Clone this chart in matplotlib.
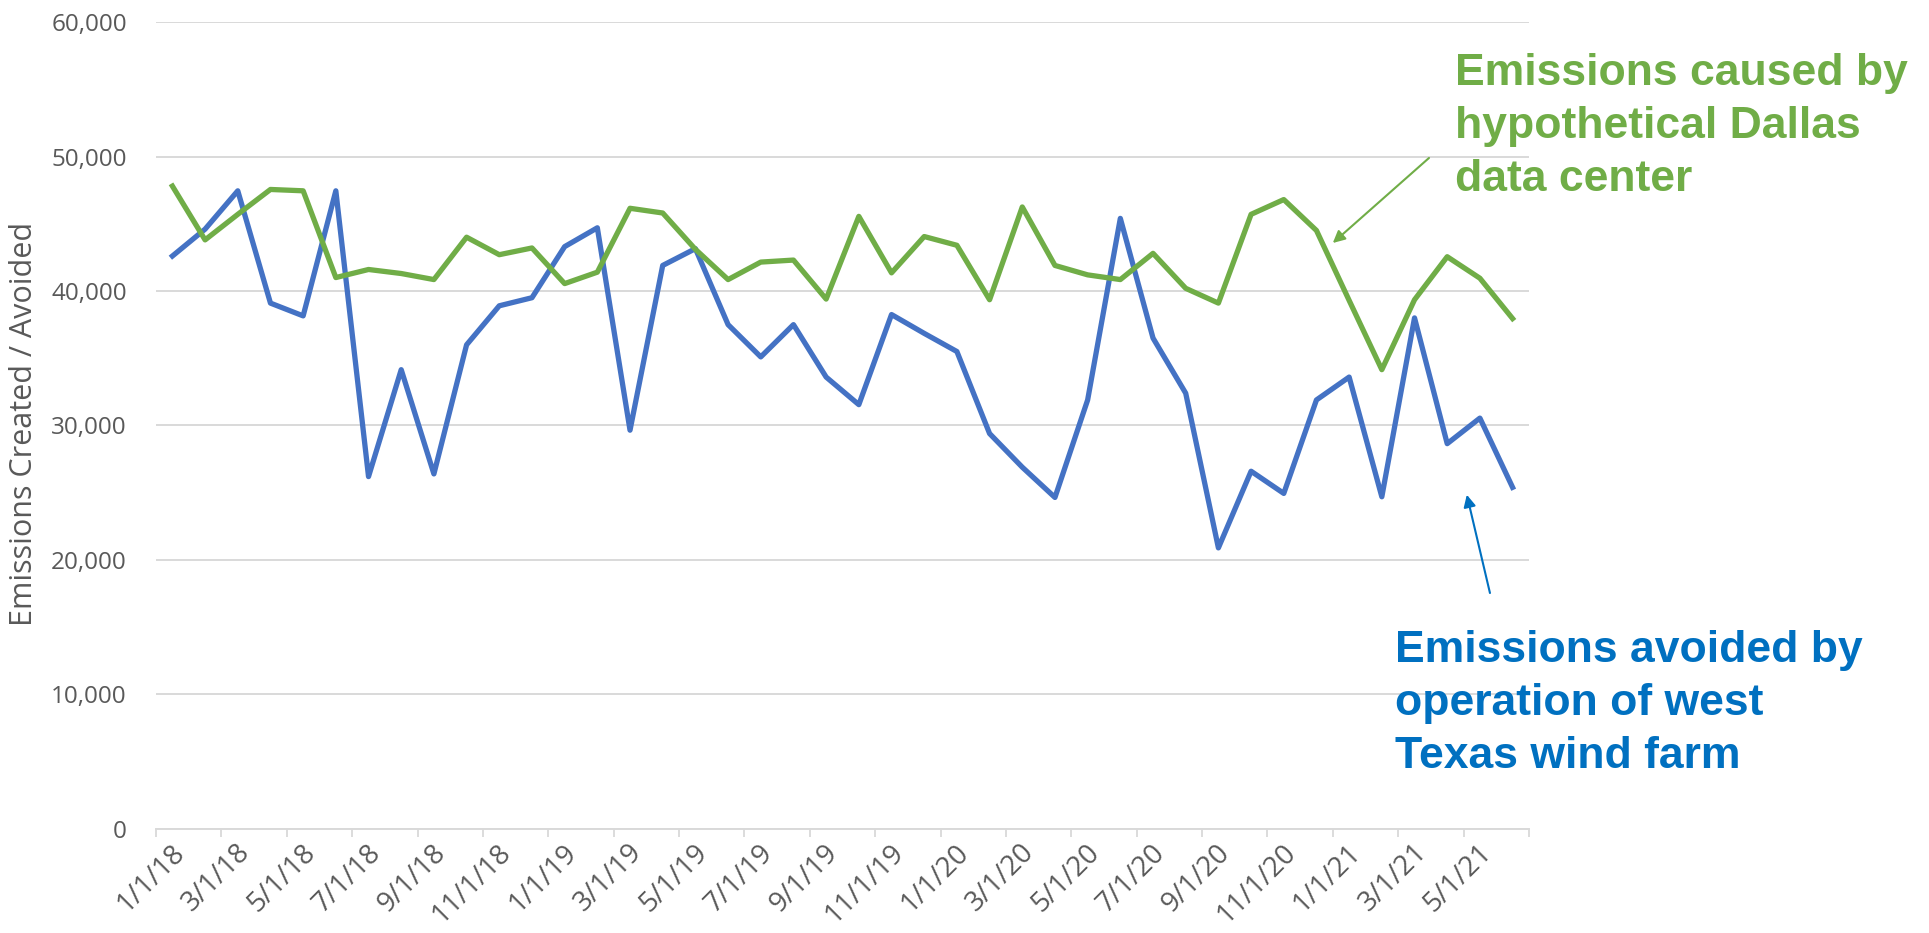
import matplotlib
matplotlib.use('Agg')
import matplotlib.pyplot as plt
import matplotlib.transforms as mtransforms
import numpy as np
import pandas as pd

# Monthly series, Jan 2018 - Jun 2021
months = pd.date_range('2018-01-01', '2021-06-01', freq='MS')
month_labels = [f'{d.month}/{d.day}/{d:%y}' for d in months]

# Emissions caused by the hypothetical Dallas data center
data_center = [47800, 43800, 45700, 47550, 47450, 41000, 41600, 41300, 40850, 44000,
               42700, 43200, 40550, 41400, 46150, 45800, 43100, 40850, 42150, 42300,
               39400, 45550, 41350, 44050, 43400, 39350, 46250, 41900, 41200, 40850,
               42800, 40200, 39100, 45700, 46800, 44500, 39300, 34150, 39350, 42550,
               40950, 37950]

# Emissions avoided by the west Texas wind farm
wind_farm = [42600, 44600, 47450, 39100, 38150, 47450, 26200, 34150, 26400, 36000,
             38900, 39500, 43300, 44700, 29650, 41900, 43150, 37500, 35100, 37500,
             33600, 31550, 38250, 36850, 35500, 29400, 26900, 24650, 31900, 45400,
             36500, 32400, 20900, 26600, 24950, 31900, 33600, 24700, 38000, 28650,
             30550, 25400]

y_ticks = [0, 10000, 20000, 30000, 40000, 50000, 60000]

GREEN = '#70AD47'
BLUE_LINE = '#4472C4'
BLUE_TEXT = '#0070C0'
GRID = '#D9D9D9'
TEXT_GRAY = '#595959'

plt.rcParams['font.family'] = ['Open Sans', 'DejaVu Sans']

fig = plt.figure(figsize=(19.29, 9.33), dpi=100)
ax = fig.add_axes([0.0809, 0.1115, 0.7117, 0.8649])

x = np.arange(len(months))
ax.plot(x, wind_farm, color=BLUE_LINE, lw=3.8, solid_joinstyle='round', zorder=3)
ax.plot(x, data_center, color=GREEN, lw=3.8, solid_joinstyle='round', zorder=4)

ax.set_xlim(-0.5, len(months) - 0.5)
ax.set_ylim(y_ticks[0], y_ticks[-1])

# y axis: gridlines only
ax.set_yticks(y_ticks)
ax.set_yticklabels([f'{v:,}' for v in y_ticks])
ax.tick_params(axis='y', length=0, pad=21, labelsize=17.5, labelcolor=TEXT_GRAY)
ax.grid(axis='y', color=GRID, lw=1.4, zorder=0)

# x axis: tick marks between months, labels every second month
ax.set_xticks(np.arange(-0.5, len(months), 2))
ax.set_xticklabels([])
ax.tick_params(axis='x', which='major', length=6, width=1.3, color=GRID)
ax.set_xticks(x[::2], minor=True)
ax.set_xticklabels(month_labels[::2], minor=True, rotation=45, ha='right',
                   va='center', rotation_mode='anchor')
ax.tick_params(axis='x', which='minor', length=0, pad=14, labelsize=20,
               labelcolor=TEXT_GRAY)
shift = mtransforms.ScaledTranslation(0.08, 0, fig.dpi_scale_trans)
for lbl in ax.get_xticklabels(minor=True):
    lbl.set_transform(lbl.get_transform() + shift)

for side in ['top', 'right', 'left']:
    ax.spines[side].set_visible(False)
ax.spines['bottom'].set_color(GRID)
ax.spines['bottom'].set_linewidth(1.4)

fig.text(0.0125, 0.5455, 'Emissions Created / Avoided', rotation=90,
         ha='center', va='center', fontsize=22, color=TEXT_GRAY)

# callouts
fig.text(0.7543, 0.7953, 'Emissions caused by\nhypothetical Dallas\ndata center',
         color=GREEN, fontsize=32, fontweight='bold', family='Liberation Sans',
         ha='left', va='baseline', linespacing=1.38)
ax.annotate('', xy=(35.5, 43570), xycoords='data',
            xytext=(0.7408, 0.8307), textcoords='figure fraction',
            arrowprops=dict(arrowstyle='-|>', color=GREEN, lw=1.5,
                            mutation_scale=18, shrinkA=0, shrinkB=0))

fig.text(0.7232, 0.1768, 'Emissions avoided by\noperation of west\nTexas wind farm',
         color=BLUE_TEXT, fontsize=32, fontweight='bold', family='Liberation Sans',
         ha='left', va='baseline', linespacing=1.38)
ax.annotate('', xy=(39.6, 24850), xycoords='data',
            xytext=(0.7724, 0.3644), textcoords='figure fraction',
            arrowprops=dict(arrowstyle='-|>', color=BLUE_TEXT, lw=1.5,
                            mutation_scale=18, shrinkA=0, shrinkB=0))

fig.savefig('out.png', dpi=100, facecolor='white')
